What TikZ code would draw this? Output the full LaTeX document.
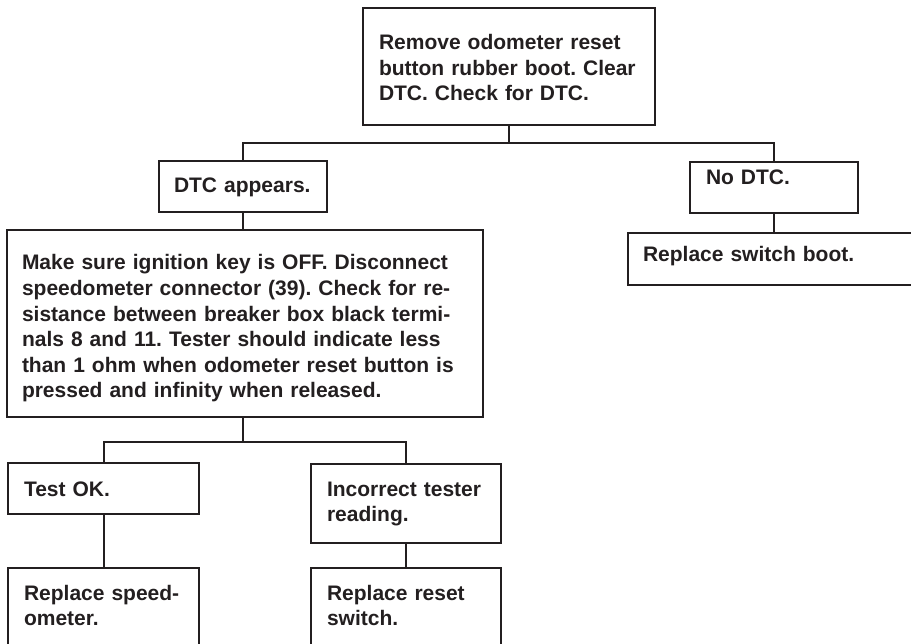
\documentclass[tikz,border=0pt]{standalone}
\usepackage{fontspec}
\setmainfont{Liberation Sans}
\usepackage{xcolor}
\definecolor{ink}{HTML}{231F20}

\tikzset{
  box/.style={draw=ink, text=ink, line width=2pt, anchor=north west, outer sep=0pt,
    inner xsep=15pt, inner ysep=0pt, align=left,
    font=\bfseries\fontsize{21}{25.6}\selectfont,
    execute at begin node={\frenchspacing\hyphenpenalty=10000}},
  link/.style={draw=ink, line width=2pt}
}

\begin{document}
\begin{tikzpicture}[x=1pt, y=-1pt]
\clip (0,0) rectangle (911,644);

%start
\node[box, inner xsep=16pt, text width=260pt, text height=41.5pt, text depth=75.5pt] (start) at (363,8)
  {Remove odometer reset\\button rubber boot. Clear\\DTC. Check for DTC.};
%dtc
\node[box, text width=138pt, text height=32pt, text depth=19pt] (dtc) at (159,161) {DTC appears.};
%nodtc
\node[box, inner xsep=16pt, text width=136pt, text height=23pt, text depth=28pt] (nodtc) at (690,162) {No DTC.};
%boot
\node[box, text width=282pt, text height=29pt, text depth=23pt] (boot) at (628,233) {Replace switch boot.};
%check
\node[box, text width=446pt, text height=40pt, text depth=147pt] (check) at (7,230)
  {Make sure ignition key is OFF. Disconnect\\speedometer connector (39). Check for re-\\sistance between breaker box black termi-\\nals 8 and 11. Tester should indicate less\\than 1 ohm when odometer reset button is\\pressed and infinity when released.};
%ok
\node[box, inner xsep=16pt, text width=159pt, text height=33pt, text depth=18pt] (ok) at (8,463) {Test OK.};
%bad
\node[box, inner xsep=16pt, text width=158pt, text height=32pt, text depth=47pt] (bad) at (311,464) {Incorrect tester\\reading.};
%speedo
\node[box, inner xsep=16pt, text width=159pt, text height=32pt, text depth=60pt] (speedo) at (8,568) {Replace speed-\\ometer.};
%reset
\node[box, inner xsep=16pt, text width=158pt, text height=32pt, text depth=60pt] (reset) at (311,568) {Replace reset\\switch.};

\draw[link] (start.south) -- ++(0,18) coordinate (fork1);
\draw[link] (fork1) -| (dtc.north);
\draw[link] (fork1) -| (nodtc.north);

\draw[link] (dtc.south) -- (dtc.south |- check.north);
\draw[link] (nodtc.south) -- (nodtc.south |- boot.north);

\draw[link] (dtc.south |- check.south) -- ++(0,25) coordinate (fork2);
\draw[link] (fork2) -| (ok.north);
\draw[link] (fork2) -| (bad.north);

\draw[link] (ok.south) -- (ok.south |- speedo.north);
\draw[link] (bad.south) -- (bad.south |- reset.north);

\end{tikzpicture}
\end{document}
